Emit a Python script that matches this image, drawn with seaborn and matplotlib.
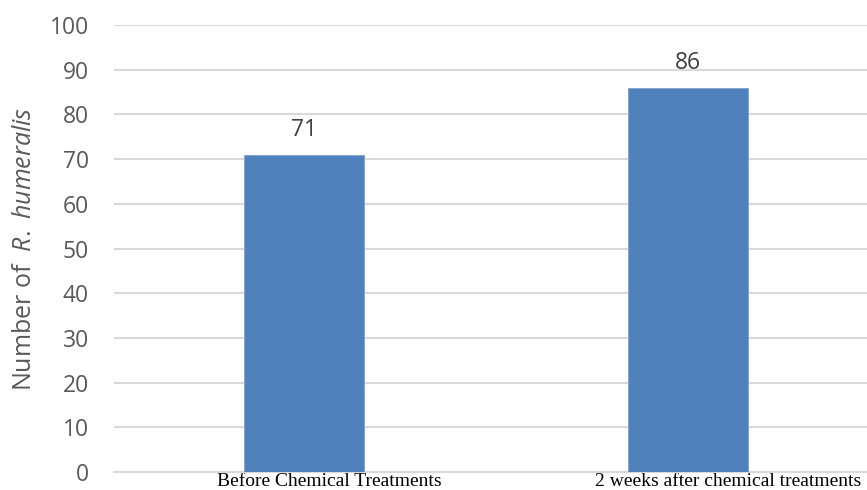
import matplotlib
matplotlib.use("Agg")
import matplotlib.pyplot as plt
import matplotlib.transforms as mtransforms
import seaborn as sns
import pandas as pd

categories = ["Before Chemical Treatments", "2 weeks after chemical treatments"]
counts = [71, 86]
y_ticks = [0, 10, 20, 30, 40, 50, 60, 70, 80, 90, 100]

sns.set_theme(style="white")
plt.rcParams["font.family"] = ["Open Sans", "DejaVu Sans"]
plt.rcParams["mathtext.fontset"] = "custom"
plt.rcParams["mathtext.rm"] = "Open Sans"
plt.rcParams["mathtext.it"] = "Open Sans:italic"

df = pd.DataFrame({"stage": categories, "count": counts})

fig = plt.figure(figsize=(8.67, 4.90), dpi=100)
ax = fig.add_axes([0.1315, 0.0367, 0.8685, 0.9123])

sns.barplot(data=df, x="stage", y="count", ax=ax, color="#4F81BD",
            width=0.3125, saturation=1, edgecolor="#7FA3D0", linewidth=0.6,
            zorder=3)

ax.set_ylim(0, 100)
ax.set_xlim(-0.495, 1.466)
ax.set_yticks(y_ticks)
ax.yaxis.grid(True, color="#D9D9D9", linewidth=1.5, zorder=0)
ax.xaxis.grid(False)
for side in ("top", "right", "left"):
    ax.spines[side].set_visible(False)
ax.spines["bottom"].set_color("#D9D9D9")
ax.spines["bottom"].set_linewidth(1.5)

ax.tick_params(axis="y", length=0, pad=18, labelsize=16.5, labelcolor="#595959")
ax.tick_params(axis="x", length=0, pad=0.5, labelsize=14, labelcolor="#000000")
for lbl in ax.get_xticklabels():
    lbl.set_fontfamily(["Liberation Serif", "DejaVu Serif"])

# nudge the category labels to the right of their bars
shifts = [25, 40]
for lbl, dx in zip(ax.get_xticklabels(), shifts):
    lbl.set_transform(lbl.get_transform() +
                      mtransforms.ScaledTranslation(dx / 100, 0, fig.dpi_scale_trans))

ax.set_xlabel("")
ax.set_ylabel(r"Number of  $\mathit{R.\ humeralis}$", fontsize=18,
              color="#595959", labelpad=9)

for container in ax.containers:
    ax.bar_label(container, labels=[str(v) for v in counts], padding=9,
                 fontsize=16.5, color="#404040")

fig.savefig("out.png", dpi=100)
